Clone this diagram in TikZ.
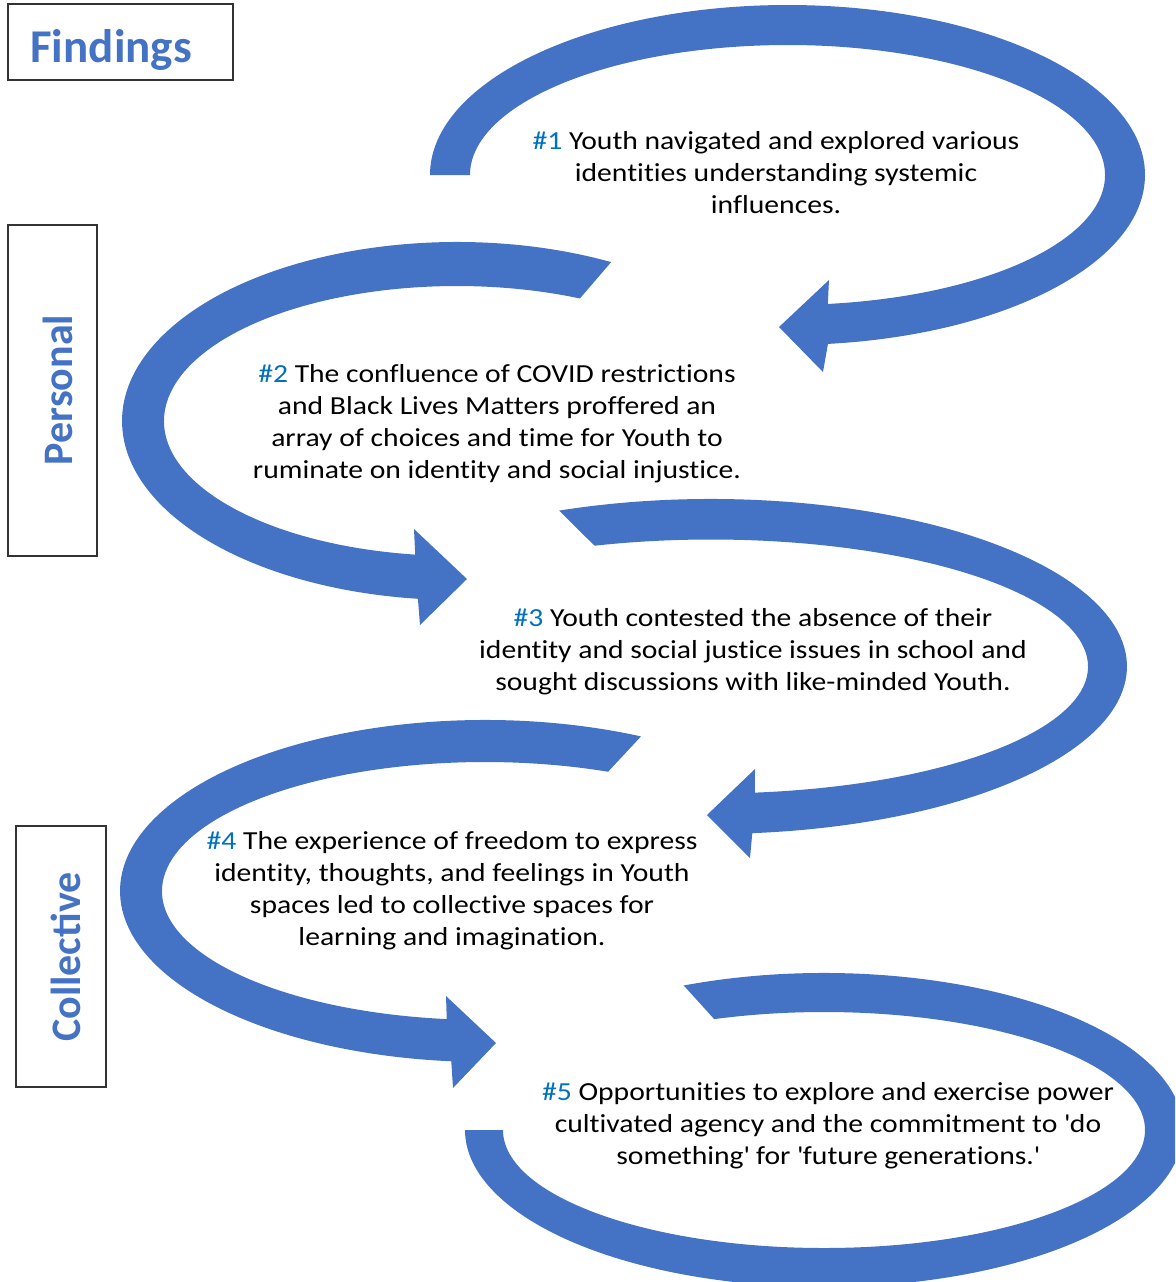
\documentclass[tikz,border=0pt]{standalone}
\usepackage{fontspec}
\setmainfont{Carlito}
\newfontfamily\bodyfont{Carlito}[FakeStretch=1.14, Ligatures=NoCommon]
\usepackage{xcolor}
\usetikzlibrary{calc}

\definecolor{bandblue}{HTML}{4472C4}
\definecolor{tagblue}{HTML}{0070C0}
\newcommand{\findtag}[1]{\textcolor{tagblue}{\#{}#1}}

\begin{document}
\begin{tikzpicture}[
    % one unit = one pixel of the sketch, y runs downwards
    x=0.5pt, y=-0.5pt,
    bandarrow/.style={fill=bandblue, draw=none},
    labelbox/.style={draw=black!80, line width=0.6pt},
    boxtitle/.style={text=bandblue, inner sep=0pt,
      font=\bfseries\fontsize{21}{24}\selectfont},
    sidetitle/.style={boxtitle, rotate=90, anchor=base},
    finding/.style={align=center, inner sep=0pt,
      font=\bodyfont\fontsize{13}{16}\selectfont},
  ]
  \useasboundingbox (0,0) rectangle (1175,1282);
  \clip (0,0) rectangle (1175,1282);

  % ellipse centres of the five bands
  \coordinate (c1) at (787.5,175);
  \coordinate (c2) at (457,421);
  \coordinate (c3) at (711,666.5);
  \coordinate (c4) at (485,891);
  \coordinate (c5) at (824,1130);

  % #1 top loop, head points left
  \fill[bandarrow] ($(c1)+(180:357.5 and 170)$)
      arc[start angle=180, end angle=443.5, x radius=357.5, y radius=170]
    -- (823,372) -- (779,327) -- (829,280)
    -- ($(c1)+(442.7:317.5 and 130)$)
      arc[start angle=442.7, end angle=180, x radius=317.5, y radius=130]
    -- cycle;
  % #2 loop, head points right
  \fill[bandarrow] ($(c2)+(297.4:335 and 179)$)
      arc[start angle=297.4, end angle=96.7, x radius=335, y radius=179]
    -- (420,625) -- (467,579) -- (414,529)
    -- ($(c2)+(98.2:293 and 135)$)
      arc[start angle=98.2, end angle=294.8, x radius=293, y radius=135]
    -- cycle;
  % #3 loop
  \fill[bandarrow] ($(c3)+(248.6:416 and 167.5)$)
      arc[start angle=248.6, end angle=444.3, x radius=416, y radius=167.5]
    -- (750,858) -- (707,815) -- (755,769)
    -- ($(c3)+(443.3:377 and 127)$)
      arc[start angle=443.3, end angle=252, x radius=377, y radius=127]
    -- cycle;
  % #4 loop
  \fill[bandarrow] ($(c4)+(295.3:365 and 171)$)
      arc[start angle=295.3, end angle=95.3, x radius=365, y radius=171]
    -- (453,1088) -- (496,1043) -- (446,996)
    -- ($(c4)+(96.8:323 and 129)$)
      arc[start angle=96.8, end angle=292.4, x radius=323, y radius=129]
    -- cycle;
  % #5 last loop, no head
  \fill[bandarrow] ($(c5)+(247:359 and 157)$)
      arc[start angle=247, end angle=540, x radius=359, y radius=157]
    -- ($(c5)+(180:321 and 118)$)
      arc[start angle=540, end angle=250, x radius=321, y radius=118]
    -- cycle;

  % side boxes
  \draw[labelbox] (8,4) rectangle (233,80);
  \draw[labelbox] (8,225) rectangle (97,556);
  \draw[labelbox] (16,826) rectangle (106,1087);
  \node[boxtitle, anchor=base west, font=\bfseries\fontsize{23.5}{26}\selectfont]
    (findings) at (30,62) {Findings};
  \node[sidetitle] (personal) at (72,390) {Personal};
  \node[sidetitle] (collective) at (80,957) {Collective};

  % findings text
  \node[finding] (finding1) at (776,173)
    {\findtag{1} Youth navigated and explored various\\
     identities understanding systemic\\ influences.};
  \node[finding] (finding2) at (497,424)
    {\findtag{2} The confluence of COVID restrictions\\
     and Black Lives Matters proffered an\\
     array of choices and time for Youth to\\
     ruminate on identity and social injustice.};
  \node[finding] (finding3) at (753,652)
    {\findtag{3} Youth contested the absence of their\\
     identity and social justice issues in school and\\
     sought discussions with like-minded Youth.};
  \node[finding] (finding4) at (452,891)
    {\findtag{4} The experience of freedom to express\\
     identity, thoughts, and feelings in Youth\\
     spaces led to collective spaces for\\
     learning and imagination.};
  \node[finding] (finding5) at (828,1126)
    {\findtag{5} Opportunities to explore and exercise power\\
     cultivated agency and the commitment to \textquotesingle do\\
     something\textquotesingle{} for \textquotesingle future generations.\textquotesingle};
\end{tikzpicture}
\end{document}
